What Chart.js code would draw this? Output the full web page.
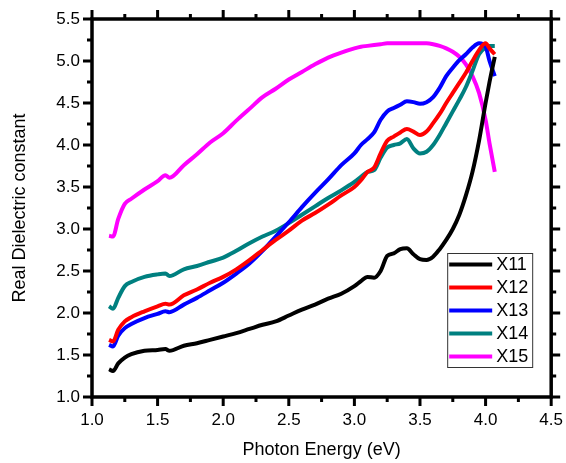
<!DOCTYPE html>
<html lang="en">
<head>
  <meta charset="UTF-8" />
  <title>Real Dielectric constant</title>
  <script src="https://cdn.jsdelivr.net/npm/chart.js"></script>
  <style>
    html, body {
      margin: 0;
      padding: 0;
      background: #fff;
    }
    #wrap {
      width: 566px;
      height: 463px;
    }
  </style>
</head>
<body>
  <div id="wrap"><canvas id="chart" width="566" height="463"></canvas></div>

  <script>
    // photon energy (eV), shared by all samples
    const energy = [1.13, 1.16, 1.2, 1.25, 1.3, 1.4, 1.5, 1.56, 1.59, 1.7, 1.8, 1.9, 2.0, 2.1, 2.2, 2.3, 2.4, 2.5, 2.6, 2.7, 2.8, 2.9, 3.0,
      3.05, 3.1, 3.15, 3.2, 3.25, 3.3, 3.35, 3.4, 3.45, 3.5, 3.55, 3.6, 3.65, 3.7, 3.75, 3.8, 3.85, 3.9, 3.95, 4.0, 4.03, 4.07];

    const x11 = [1.33, 1.31, 1.40, 1.47, 1.51, 1.55, 1.56, 1.57, 1.55, 1.61, 1.64, 1.68, 1.72, 1.76, 1.81, 1.86, 1.90, 1.97, 2.04, 2.10, 2.17, 2.23, 2.32,
      2.38, 2.43, 2.42, 2.50, 2.68, 2.71, 2.76, 2.77, 2.70, 2.64, 2.63, 2.67, 2.76, 2.87, 3.00, 3.17, 3.40, 3.68, 4.05, 4.50, 4.75, 5.05];
    const x12 = [1.68, 1.66, 1.80, 1.90, 1.95, 2.02, 2.08, 2.11, 2.10, 2.21, 2.28, 2.36, 2.43, 2.52, 2.63, 2.75, 2.87, 2.98, 3.10, 3.19, 3.29, 3.40, 3.50,
      3.58, 3.68, 3.73, 3.90, 4.05, 4.10, 4.15, 4.19, 4.16, 4.12, 4.16, 4.26, 4.37, 4.50, 4.62, 4.74, 4.86, 5.00, 5.13, 5.21, 5.15, 5.08];
    const x13 = [1.62, 1.60, 1.73, 1.82, 1.87, 1.94, 1.99, 2.02, 2.01, 2.10, 2.18, 2.27, 2.36, 2.47, 2.59, 2.74, 2.91, 3.08, 3.26, 3.43, 3.59, 3.76, 3.90,
      4.00, 4.07, 4.15, 4.30, 4.40, 4.44, 4.48, 4.52, 4.51, 4.49, 4.51, 4.57, 4.68, 4.82, 4.92, 5.01, 5.08, 5.16, 5.21, 5.17, 5.00, 4.82];
    const x14 = [2.08, 2.05, 2.18, 2.32, 2.37, 2.43, 2.46, 2.47, 2.44, 2.52, 2.56, 2.61, 2.66, 2.74, 2.83, 2.91, 2.98, 3.07, 3.17, 3.27, 3.37, 3.46, 3.56,
      3.62, 3.68, 3.70, 3.85, 3.97, 4.00, 4.02, 4.07, 3.96, 3.90, 3.92, 4.00, 4.12, 4.26, 4.40, 4.54, 4.69, 4.88, 5.08, 5.16, 5.18, 5.18];
    const x15 = [2.92, 2.91, 3.12, 3.30, 3.36, 3.47, 3.57, 3.64, 3.61, 3.76, 3.89, 4.03, 4.14, 4.29, 4.43, 4.57, 4.67, 4.78, 4.87, 4.96, 5.04, 5.10, 5.15,
      5.17, 5.18, 5.19, 5.20, 5.21, 5.21, 5.21, 5.21, 5.21, 5.21, 5.21, 5.20, 5.18, 5.15, 5.11, 5.05, 4.96, 4.82, 4.62, 4.30, 4.02, 3.68];

    const seriesNames = ['X11', 'X12', 'X13', 'X14', 'X15'];
    const seriesValues = [x11, x12, x13, x14, x15];
    const seriesColors = ['#000000', '#ff0000', '#0000ff', '#008080', '#ff00ff'];

    const xMin = 1.0, xMax = 4.5, xStep = 0.5;
    const yMin = 1.0, yMax = 5.5, yStep = 0.5;

    Chart.defaults.font.family = 'Arial, "Liberation Sans", sans-serif';
    Chart.defaults.color = '#000';

    // frame with outward major/minor ticks on all four sides
    const frameTicks = {
      id: 'frameTicks',
      afterDraw(chart) {
        const { ctx, chartArea: a, scales: { x, y } } = chart;
        ctx.save();
        ctx.strokeStyle = '#000';
        ctx.lineWidth = 3;
        ctx.lineCap = 'butt';
        ctx.beginPath();
        for (let i = 0; i <= (xMax - xMin) / xStep * 2; i++) {
          const v = xMin + i * xStep / 2;
          const px = x.getPixelForValue(v);
          const len = i % 2 === 0 ? 9 : 5;
          ctx.moveTo(px, a.bottom); ctx.lineTo(px, a.bottom + len);
          ctx.moveTo(px, a.top); ctx.lineTo(px, a.top - len);
        }
        for (let i = 0; i <= (yMax - yMin) / yStep * 2; i++) {
          const v = yMin + i * yStep / 2;
          const py = y.getPixelForValue(v);
          const len = i % 2 === 0 ? 9 : 5;
          ctx.moveTo(a.left, py); ctx.lineTo(a.left - len, py);
          ctx.moveTo(a.right, py); ctx.lineTo(a.right + len, py);
        }
        ctx.stroke();
        ctx.lineWidth = 3.5;
        ctx.strokeRect(a.left, a.top, a.right - a.left, a.bottom - a.top);
        ctx.restore();
      }
    };

    // boxed legend inside the plot, lower right
    const insideLegend = {
      id: 'insideLegend',
      afterDraw(chart) {
        const { ctx, chartArea: a } = chart;
        const bx = a.right - 104, by = a.bottom - 144, bw = 85, bh = 114;
        ctx.save();
        ctx.fillStyle = '#fff';
        ctx.fillRect(bx, by, bw, bh);
        ctx.strokeStyle = '#333';
        ctx.lineWidth = 1;
        ctx.strokeRect(bx + 0.5, by + 0.5, bw, bh);
        ctx.font = '18px Arial, "Liberation Sans", sans-serif';
        ctx.textBaseline = 'middle';
        chart.data.datasets.forEach((ds, i) => {
          const ry = by + 11.5 + i * 23;
          ctx.strokeStyle = ds.borderColor;
          ctx.lineWidth = 4;
          ctx.beginPath();
          ctx.moveTo(bx + 2, ry);
          ctx.lineTo(bx + 45, ry);
          ctx.stroke();
          ctx.fillStyle = '#000';
          ctx.fillText(ds.label, bx + 49, ry + 1);
        });
        ctx.restore();
      }
    };

    new Chart(document.getElementById('chart'), {
      type: 'line',
      data: {
        datasets: seriesNames.map((name, s) => ({
          label: name,
          data: energy.map((e, i) => ({ x: e, y: seriesValues[s][i] })),
          borderColor: seriesColors[s],
          backgroundColor: seriesColors[s],
          borderWidth: 4,
          pointRadius: 0,
          cubicInterpolationMode: 'monotone',
          fill: false
        }))
      },
      options: {
        responsive: false,
        animation: false,
        layout: { padding: { top: 19, right: 14, left: 0, bottom: 0 } },
        plugins: {
          legend: { display: false },
          tooltip: { enabled: false }
        },
        scales: {
          x: {
            type: 'linear',
            min: xMin,
            max: xMax,
            afterFit(scale) { scale.height = 66; },
            border: { display: false },
            grid: { display: false, drawTicks: true, tickLength: 10 },
            ticks: {
              stepSize: xStep,
              padding: 3,
              font: { size: 17 },
              color: '#000',
              maxRotation: 0,
              callback: (v) => v.toFixed(1)
            },
            title: {
              display: true,
              text: 'Photon Energy (eV)',
              font: { size: 18 },
              color: '#000',
              padding: { top: 0, bottom: 2 }
            }
          },
          y: {
            type: 'linear',
            min: yMin,
            max: yMax,
            afterFit(scale) { scale.width = 92; },
            border: { display: false },
            grid: { display: false, drawTicks: true, tickLength: 10 },
            ticks: {
              stepSize: yStep,
              padding: 2,
              font: { size: 17 },
              color: '#000',
              callback: (v) => v.toFixed(1)
            },
            title: {
              display: true,
              text: 'Real Dielectric constant',
              font: { size: 18 },
              color: '#000',
              padding: { top: 9, bottom: 0 }
            }
          }
        }
      },
      plugins: [frameTicks, insideLegend]
    });
  </script>
</body>
</html>
